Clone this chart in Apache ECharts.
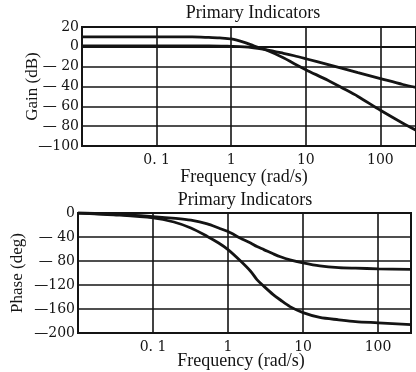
<!DOCTYPE html>
<html>
<head>
<meta charset="utf-8">
<script src="https://cdn.jsdelivr.net/npm/echarts@6/dist/echarts.min.js"></script>
<style>
html,body{margin:0;padding:0;background:#fff;}
#c{width:416px;height:372px;}
</style>
</head>
<body>
<div id="c"></div>
<script>
// ---- data ----
var titleText = 'Primary Indicators';
var xName = 'Frequency (rad/s)';
var gainName = 'Gain (dB)';
var phaseName = 'Phase (deg)';

var gainFreqA = [0.01, 0.1, 0.3, 0.5, 0.7, 1, 1.5, 2, 3, 5, 7, 10, 20, 30, 50, 100, 200, 300];
var gainA     = [10, 10, 10, 9.5, 9, 8, 4.5, 1, -3.5, -11, -17, -23, -34, -41, -50, -64, -77, -84];
var gainFreqB = [0.01, 0.1, 0.5, 1, 1.5, 2, 3, 5, 7, 10, 20, 30, 50, 100, 200, 300];
var gainB     = [1, 1, 1, 0.5, 0, -1, -3, -6.5, -9, -12, -18, -21.5, -26, -32, -38, -41];

var phaseFreqC = [0.01, 0.03, 0.1, 0.2, 0.32, 0.53, 0.75, 1, 1.47, 2, 2.43, 3, 4, 5, 6.7, 10, 16.7, 30, 50, 100, 275];
var phaseC     = [0, -2, -6, -9, -12, -18, -25, -31, -42, -50, -56, -61, -68, -73, -78, -83, -88, -91, -92, -93, -94];
var phaseFreqD = [0.01, 0.03, 0.1, 0.19, 0.32, 0.53, 0.75, 1, 1.47, 2, 2.43, 3, 4, 5, 6.7, 10, 16.7, 30, 50, 100, 275];
var phaseD     = [0, -3, -8, -15, -25, -39, -50, -61, -80, -97, -111, -122, -136, -145, -156, -166, -174, -178, -181, -183, -186];

function pairs(xs, ys){ return xs.map(function(x,i){ return [x, ys[i]]; }); }

var SERIF = '"Liberation Serif", "DejaVu Serif", serif';
var NUMF = '"DejaVu Serif", "Liberation Serif", serif';
var INK = '#141414';

function xLabel(v){
  var e = Math.round(Math.log(v)/Math.LN10);
  if (e === -1) return '0. 1';
  if (e === 0) return '1';
  if (e === 1) return '10';
  if (e === 2) return '100';
  return '';
}
function yLabel(v){
  if (v < 0) { var a = -v; return (a < 100 ? '— ' : '—') + a; }
  return String(v);
}

var chart = echarts.init(document.getElementById('c'), null, {renderer:'canvas'});

function xAxisCfg(gridIndex, max){
  return {
    type:'log', logBase:10, gridIndex:gridIndex, min:0.01, max:max,
    axisLine:{show:true, lineStyle:{color:INK, width:2}},
    axisTick:{show:false},
    minorTick:{show:false},
    splitLine:{show:true, lineStyle:{color:INK, width:1.6}},
    axisLabel:{show:true, formatter:xLabel, showMinLabel:false, showMaxLabel:false,
      color:INK, fontFamily:NUMF, fontSize:14, margin:7}
  };
}
function yAxisCfg(gridIndex, min, max, interval, name, gap){
  return {
    type:'value', gridIndex:gridIndex, min:min, max:max, interval:interval,
    name:name, nameLocation:'middle', nameGap:gap, nameRotate:90, nameMoveOverlap:false,
    nameTextStyle:{fontFamily:SERIF, fontSize:17, color:INK},
    axisLine:{show:true, lineStyle:{color:INK, width:2}},
    axisTick:{show:false},
    splitLine:{show:true, lineStyle:{color:INK, width:1.6}},
    axisLabel:{formatter:yLabel, color:INK, fontFamily:NUMF, fontSize:14, margin:3}
  };
}
var tStyle = {fontFamily:SERIF, fontSize:18, fontWeight:'normal', color:INK};

chart.setOption({
  animation:false,
  backgroundColor:'#fff',
  title:[
    {text:titleText, left:253, top:4, textAlign:'center', textStyle:tStyle, padding:0},
    {text:titleText, left:245, top:191, textAlign:'center', textStyle:tStyle, padding:0},
    {text:xName, left:244, top:168, textAlign:'center', textStyle:tStyle, padding:0},
    {text:xName, left:241, top:352, textAlign:'center', textStyle:tStyle, padding:0}
  ],
  grid:[
    {left:82, top:27, width:340, height:119, show:true, borderColor:INK, borderWidth:2, backgroundColor:'transparent'},
    {left:78, top:213, width:333, height:120, show:true, borderColor:INK, borderWidth:2, backgroundColor:'transparent'}
  ],
  xAxis:[ xAxisCfg(0, 300), xAxisCfg(1, 275) ],
  yAxis:[
    yAxisCfg(0, -100, 20, 20, gainName, 41),
    yAxisCfg(1, -200, 0, 40, phaseName, 52)
  ],
  series:[
    {type:'line', xAxisIndex:0, yAxisIndex:0, data:pairs(gainFreqA, gainA), smooth:0.3,
     showSymbol:false, lineStyle:{color:INK, width:2.8}},
    {type:'line', xAxisIndex:0, yAxisIndex:0, data:pairs(gainFreqB, gainB), smooth:0.3,
     showSymbol:false, lineStyle:{color:INK, width:2.8}},
    {type:'line', xAxisIndex:1, yAxisIndex:1, data:pairs(phaseFreqC, phaseC), smooth:0.3,
     showSymbol:false, lineStyle:{color:INK, width:2.8}},
    {type:'line', xAxisIndex:1, yAxisIndex:1, data:pairs(phaseFreqD, phaseD), smooth:0.3,
     showSymbol:false, lineStyle:{color:INK, width:2.8}}
  ]
});
</script>
</body>
</html>
